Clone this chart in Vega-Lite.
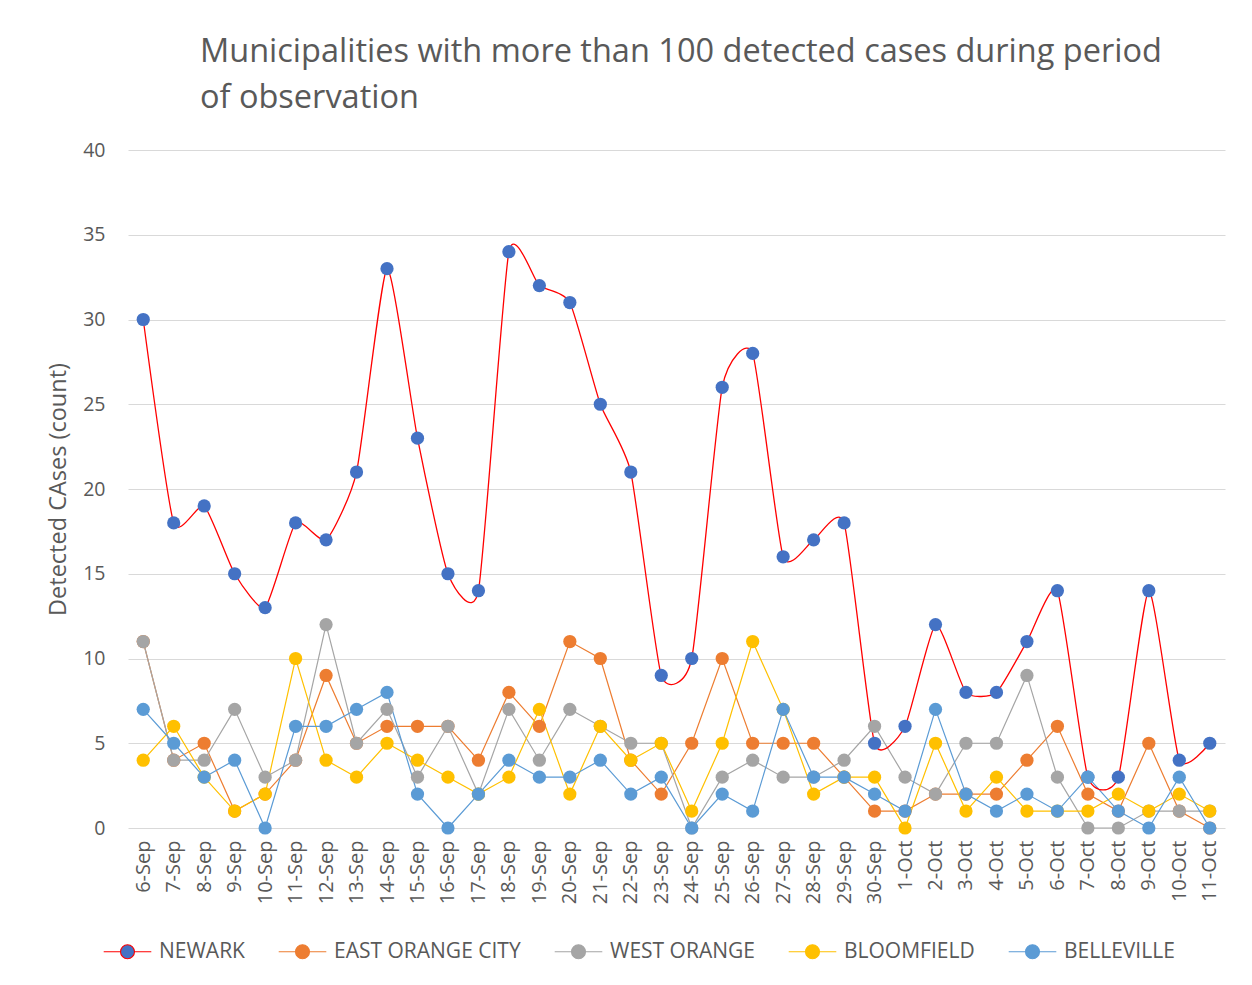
{
  "$schema": "https://vega.github.io/schema/vega-lite/v6.json",
  "autosize": "none",
  "width": 1097,
  "height": 678,
  "padding": {"left": 128, "top": 150, "right": 27, "bottom": 157},
  "background": "white",
  "title": {
    "text": ["Municipalities with more than 100 detected cases during period", "of observation"],
    "anchor": "start",
    "frame": "group",
    "dx": 72,
    "offset": 26,
    "font": "Open Sans",
    "fontSize": 32.5,
    "fontWeight": "normal",
    "color": "#595959",
    "lineHeight": 46
  },
  "config": {
    "view": {"stroke": null},
    "font": "Open Sans",
    "axis": {"labelFont": "Open Sans", "titleFont": "Open Sans", "labelColor": "#595959", "titleColor": "#595959"},
    "legend": {"padding": 0}
  },
  "data": {"values": [
    {"d":"6-Sep","s":"NEWARK","v":30},{"d":"7-Sep","s":"NEWARK","v":18},{"d":"8-Sep","s":"NEWARK","v":19},{"d":"9-Sep","s":"NEWARK","v":15},{"d":"10-Sep","s":"NEWARK","v":13},{"d":"11-Sep","s":"NEWARK","v":18},{"d":"12-Sep","s":"NEWARK","v":17},{"d":"13-Sep","s":"NEWARK","v":21},{"d":"14-Sep","s":"NEWARK","v":33},{"d":"15-Sep","s":"NEWARK","v":23},{"d":"16-Sep","s":"NEWARK","v":15},{"d":"17-Sep","s":"NEWARK","v":14},{"d":"18-Sep","s":"NEWARK","v":34},{"d":"19-Sep","s":"NEWARK","v":32},{"d":"20-Sep","s":"NEWARK","v":31},{"d":"21-Sep","s":"NEWARK","v":25},{"d":"22-Sep","s":"NEWARK","v":21},{"d":"23-Sep","s":"NEWARK","v":9},{"d":"24-Sep","s":"NEWARK","v":10},{"d":"25-Sep","s":"NEWARK","v":26},{"d":"26-Sep","s":"NEWARK","v":28},{"d":"27-Sep","s":"NEWARK","v":16},{"d":"28-Sep","s":"NEWARK","v":17},{"d":"29-Sep","s":"NEWARK","v":18},{"d":"30-Sep","s":"NEWARK","v":5},{"d":"1-Oct","s":"NEWARK","v":6},{"d":"2-Oct","s":"NEWARK","v":12},{"d":"3-Oct","s":"NEWARK","v":8},{"d":"4-Oct","s":"NEWARK","v":8},{"d":"5-Oct","s":"NEWARK","v":11},{"d":"6-Oct","s":"NEWARK","v":14},{"d":"7-Oct","s":"NEWARK","v":3},{"d":"8-Oct","s":"NEWARK","v":3},{"d":"9-Oct","s":"NEWARK","v":14},{"d":"10-Oct","s":"NEWARK","v":4},{"d":"11-Oct","s":"NEWARK","v":5},
    {"d":"6-Sep","s":"EAST ORANGE CITY","v":11},{"d":"7-Sep","s":"EAST ORANGE CITY","v":4},{"d":"8-Sep","s":"EAST ORANGE CITY","v":5},{"d":"9-Sep","s":"EAST ORANGE CITY","v":1},{"d":"10-Sep","s":"EAST ORANGE CITY","v":2},{"d":"11-Sep","s":"EAST ORANGE CITY","v":4},{"d":"12-Sep","s":"EAST ORANGE CITY","v":9},{"d":"13-Sep","s":"EAST ORANGE CITY","v":5},{"d":"14-Sep","s":"EAST ORANGE CITY","v":6},{"d":"15-Sep","s":"EAST ORANGE CITY","v":6},{"d":"16-Sep","s":"EAST ORANGE CITY","v":6},{"d":"17-Sep","s":"EAST ORANGE CITY","v":4},{"d":"18-Sep","s":"EAST ORANGE CITY","v":8},{"d":"19-Sep","s":"EAST ORANGE CITY","v":6},{"d":"20-Sep","s":"EAST ORANGE CITY","v":11},{"d":"21-Sep","s":"EAST ORANGE CITY","v":10},{"d":"22-Sep","s":"EAST ORANGE CITY","v":4},{"d":"23-Sep","s":"EAST ORANGE CITY","v":2},{"d":"24-Sep","s":"EAST ORANGE CITY","v":5},{"d":"25-Sep","s":"EAST ORANGE CITY","v":10},{"d":"26-Sep","s":"EAST ORANGE CITY","v":5},{"d":"27-Sep","s":"EAST ORANGE CITY","v":5},{"d":"28-Sep","s":"EAST ORANGE CITY","v":5},{"d":"29-Sep","s":"EAST ORANGE CITY","v":3},{"d":"30-Sep","s":"EAST ORANGE CITY","v":1},{"d":"1-Oct","s":"EAST ORANGE CITY","v":1},{"d":"2-Oct","s":"EAST ORANGE CITY","v":2},{"d":"3-Oct","s":"EAST ORANGE CITY","v":2},{"d":"4-Oct","s":"EAST ORANGE CITY","v":2},{"d":"5-Oct","s":"EAST ORANGE CITY","v":4},{"d":"6-Oct","s":"EAST ORANGE CITY","v":6},{"d":"7-Oct","s":"EAST ORANGE CITY","v":2},{"d":"8-Oct","s":"EAST ORANGE CITY","v":1},{"d":"9-Oct","s":"EAST ORANGE CITY","v":5},{"d":"10-Oct","s":"EAST ORANGE CITY","v":1},{"d":"11-Oct","s":"EAST ORANGE CITY","v":0},
    {"d":"6-Sep","s":"WEST ORANGE","v":11},{"d":"7-Sep","s":"WEST ORANGE","v":4},{"d":"8-Sep","s":"WEST ORANGE","v":4},{"d":"9-Sep","s":"WEST ORANGE","v":7},{"d":"10-Sep","s":"WEST ORANGE","v":3},{"d":"11-Sep","s":"WEST ORANGE","v":4},{"d":"12-Sep","s":"WEST ORANGE","v":12},{"d":"13-Sep","s":"WEST ORANGE","v":5},{"d":"14-Sep","s":"WEST ORANGE","v":7},{"d":"15-Sep","s":"WEST ORANGE","v":3},{"d":"16-Sep","s":"WEST ORANGE","v":6},{"d":"17-Sep","s":"WEST ORANGE","v":2},{"d":"18-Sep","s":"WEST ORANGE","v":7},{"d":"19-Sep","s":"WEST ORANGE","v":4},{"d":"20-Sep","s":"WEST ORANGE","v":7},{"d":"21-Sep","s":"WEST ORANGE","v":6},{"d":"22-Sep","s":"WEST ORANGE","v":5},{"d":"23-Sep","s":"WEST ORANGE","v":5},{"d":"24-Sep","s":"WEST ORANGE","v":0},{"d":"25-Sep","s":"WEST ORANGE","v":3},{"d":"26-Sep","s":"WEST ORANGE","v":4},{"d":"27-Sep","s":"WEST ORANGE","v":3},{"d":"28-Sep","s":"WEST ORANGE","v":3},{"d":"29-Sep","s":"WEST ORANGE","v":4},{"d":"30-Sep","s":"WEST ORANGE","v":6},{"d":"1-Oct","s":"WEST ORANGE","v":3},{"d":"2-Oct","s":"WEST ORANGE","v":2},{"d":"3-Oct","s":"WEST ORANGE","v":5},{"d":"4-Oct","s":"WEST ORANGE","v":5},{"d":"5-Oct","s":"WEST ORANGE","v":9},{"d":"6-Oct","s":"WEST ORANGE","v":3},{"d":"7-Oct","s":"WEST ORANGE","v":0},{"d":"8-Oct","s":"WEST ORANGE","v":0},{"d":"9-Oct","s":"WEST ORANGE","v":1},{"d":"10-Oct","s":"WEST ORANGE","v":1},{"d":"11-Oct","s":"WEST ORANGE","v":1},
    {"d":"6-Sep","s":"BLOOMFIELD","v":4},{"d":"7-Sep","s":"BLOOMFIELD","v":6},{"d":"8-Sep","s":"BLOOMFIELD","v":3},{"d":"9-Sep","s":"BLOOMFIELD","v":1},{"d":"10-Sep","s":"BLOOMFIELD","v":2},{"d":"11-Sep","s":"BLOOMFIELD","v":10},{"d":"12-Sep","s":"BLOOMFIELD","v":4},{"d":"13-Sep","s":"BLOOMFIELD","v":3},{"d":"14-Sep","s":"BLOOMFIELD","v":5},{"d":"15-Sep","s":"BLOOMFIELD","v":4},{"d":"16-Sep","s":"BLOOMFIELD","v":3},{"d":"17-Sep","s":"BLOOMFIELD","v":2},{"d":"18-Sep","s":"BLOOMFIELD","v":3},{"d":"19-Sep","s":"BLOOMFIELD","v":7},{"d":"20-Sep","s":"BLOOMFIELD","v":2},{"d":"21-Sep","s":"BLOOMFIELD","v":6},{"d":"22-Sep","s":"BLOOMFIELD","v":4},{"d":"23-Sep","s":"BLOOMFIELD","v":5},{"d":"24-Sep","s":"BLOOMFIELD","v":1},{"d":"25-Sep","s":"BLOOMFIELD","v":5},{"d":"26-Sep","s":"BLOOMFIELD","v":11},{"d":"27-Sep","s":"BLOOMFIELD","v":7},{"d":"28-Sep","s":"BLOOMFIELD","v":2},{"d":"29-Sep","s":"BLOOMFIELD","v":3},{"d":"30-Sep","s":"BLOOMFIELD","v":3},{"d":"1-Oct","s":"BLOOMFIELD","v":0},{"d":"2-Oct","s":"BLOOMFIELD","v":5},{"d":"3-Oct","s":"BLOOMFIELD","v":1},{"d":"4-Oct","s":"BLOOMFIELD","v":3},{"d":"5-Oct","s":"BLOOMFIELD","v":1},{"d":"6-Oct","s":"BLOOMFIELD","v":1},{"d":"7-Oct","s":"BLOOMFIELD","v":1},{"d":"8-Oct","s":"BLOOMFIELD","v":2},{"d":"9-Oct","s":"BLOOMFIELD","v":1},{"d":"10-Oct","s":"BLOOMFIELD","v":2},{"d":"11-Oct","s":"BLOOMFIELD","v":1},
    {"d":"6-Sep","s":"BELLEVILLE","v":7},{"d":"7-Sep","s":"BELLEVILLE","v":5},{"d":"8-Sep","s":"BELLEVILLE","v":3},{"d":"9-Sep","s":"BELLEVILLE","v":4},{"d":"10-Sep","s":"BELLEVILLE","v":0},{"d":"11-Sep","s":"BELLEVILLE","v":6},{"d":"12-Sep","s":"BELLEVILLE","v":6},{"d":"13-Sep","s":"BELLEVILLE","v":7},{"d":"14-Sep","s":"BELLEVILLE","v":8},{"d":"15-Sep","s":"BELLEVILLE","v":2},{"d":"16-Sep","s":"BELLEVILLE","v":0},{"d":"17-Sep","s":"BELLEVILLE","v":2},{"d":"18-Sep","s":"BELLEVILLE","v":4},{"d":"19-Sep","s":"BELLEVILLE","v":3},{"d":"20-Sep","s":"BELLEVILLE","v":3},{"d":"21-Sep","s":"BELLEVILLE","v":4},{"d":"22-Sep","s":"BELLEVILLE","v":2},{"d":"23-Sep","s":"BELLEVILLE","v":3},{"d":"24-Sep","s":"BELLEVILLE","v":0},{"d":"25-Sep","s":"BELLEVILLE","v":2},{"d":"26-Sep","s":"BELLEVILLE","v":1},{"d":"27-Sep","s":"BELLEVILLE","v":7},{"d":"28-Sep","s":"BELLEVILLE","v":3},{"d":"29-Sep","s":"BELLEVILLE","v":3},{"d":"30-Sep","s":"BELLEVILLE","v":2},{"d":"1-Oct","s":"BELLEVILLE","v":1},{"d":"2-Oct","s":"BELLEVILLE","v":7},{"d":"3-Oct","s":"BELLEVILLE","v":2},{"d":"4-Oct","s":"BELLEVILLE","v":1},{"d":"5-Oct","s":"BELLEVILLE","v":2},{"d":"6-Oct","s":"BELLEVILLE","v":1},{"d":"7-Oct","s":"BELLEVILLE","v":3},{"d":"8-Oct","s":"BELLEVILLE","v":1},{"d":"9-Oct","s":"BELLEVILLE","v":0},{"d":"10-Oct","s":"BELLEVILLE","v":3},{"d":"11-Oct","s":"BELLEVILLE","v":0}
  ]},
  "encoding": {
    "x": {
      "field": "d", "type": "nominal", "sort": null,
      "scale": {"type": "point", "padding": 0.5},
      "axis": {"title": null, "labelAngle": 270, "labelFontSize": 20, "labelPadding": 12, "ticks": false, "domain": false, "grid": false, "labelOverlap": false}
    },
    "y": {
      "field": "v", "type": "quantitative",
      "scale": {"domain": [0, 40], "nice": false},
      "axis": {"values": [0,5,10,15,20,25,30,35,40], "title": "Detected CAses (count)", "titleFontSize": 23.5, "titleFontWeight": "normal", "titlePadding": 12, "labelFontSize": 19.5, "labelPadding": 23, "ticks": false, "domain": false, "grid": true, "gridColor": "#D9D9D9", "gridWidth": 1.2}
    }
  },
  "layer": [
    {
      "transform": [{"filter": "datum.s !== 'NEWARK'"}],
      "mark": {"type": "line", "strokeWidth": 1.2},
      "encoding": {
        "stroke": {"field": "s", "type": "nominal",
          "scale": {"domain": ["NEWARK","EAST ORANGE CITY","WEST ORANGE","BLOOMFIELD","BELLEVILLE"], "range": ["#FF0000","#ED7D31","#A5A5A5","#FFC000","#5B9BD5"]},
          "legend": {
            "title": null, "orient": "none", "direction": "horizontal", "legendX": -11, "legendY": 791,
            "symbolType": "M-3.4,0H-1M1,0H3.4M-1,0A1,1 0 1,0 1,0A1,1 0 1,0 -1,0Z",
            "symbolSize": 196, "symbolStrokeWidth": 1.1, "symbolOpacity": 1,
            "labelFont": "Open Sans", "labelFontSize": 21, "labelColor": "#595959", "labelLimit": 400,
            "labelOffset": 21, "columnPadding": 31
          }
        }
      }
    },
    {
      "transform": [{"filter": "datum.s === 'NEWARK'"}],
      "mark": {"type": "line", "strokeWidth": 1.3, "interpolate": "cardinal", "tension": 0.45},
      "encoding": {
        "stroke": {"field": "s", "type": "nominal"}
      }
    },
    {
      "mark": {"type": "point", "filled": true, "size": 175, "opacity": 1, "strokeWidth": 0},
      "encoding": {
        "fill": {"field": "s", "type": "nominal",
          "scale": {"domain": ["NEWARK","EAST ORANGE CITY","WEST ORANGE","BLOOMFIELD","BELLEVILLE"], "range": ["#4472C4","#ED7D31","#A5A5A5","#FFC000","#5B9BD5"]},
          "legend": {
            "title": null, "orient": "none", "direction": "horizontal", "legendX": -11, "legendY": 791,
            "symbolType": "M-3.4,0H-1M1,0H3.4M-1,0A1,1 0 1,0 1,0A1,1 0 1,0 -1,0Z",
            "symbolSize": 196, "symbolStrokeWidth": 1.1, "symbolOpacity": 1,
            "labelFont": "Open Sans", "labelFontSize": 21, "labelColor": "#595959", "labelLimit": 400,
            "labelOffset": 21, "columnPadding": 31
          }
        }
      }
    }
  ]
}
